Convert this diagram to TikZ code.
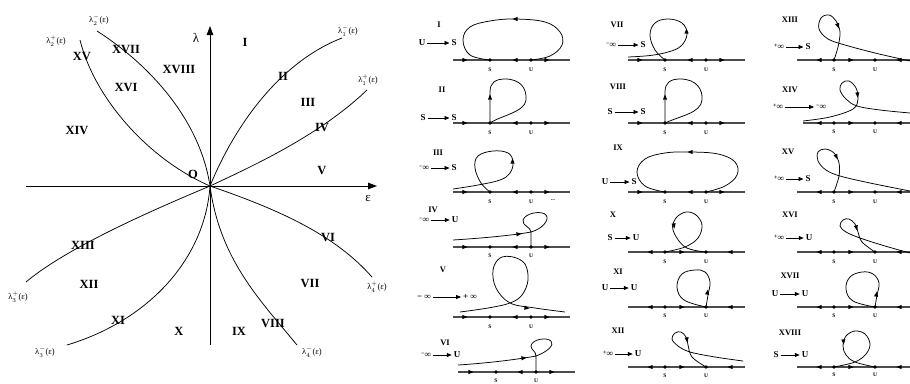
\documentclass[tikz,border=0pt]{standalone}
\usepackage{fontspec}
\setmainfont{Liberation Serif}
\usetikzlibrary{arrows.meta}
\tikzset{
  crv/.style={line width=0.75pt},
  axl/.style={line width=1.1pt, black!70},
  reg/.style={font=\fontsize{12.5}{13}\selectfont\bfseries, inner sep=0pt},
  plab/.style={font=\fontsize{8.5}{9}\selectfont\bfseries, inner sep=0pt},
  tl/.style={font=\fontsize{9}{10}\selectfont\bfseries, inner sep=1.8pt},
  su/.style={font=\fontsize{5.5}{6}\selectfont\bfseries, inner sep=0pt},
  lam/.style={font=\fontsize{8.5}{9}\selectfont, inner sep=0pt},
  tarr/.style={line width=0.8pt, -{Triangle[length=5pt,width=4pt]}},
  mainax/.style={line width=0.9pt, -{Triangle[length=9pt,width=6.5pt]}},
}
\newcommand\tri[3]{\fill[shift={({#1},{#2})},rotate=#3] (2.6,0) -- (-2.6,2.1) -- (-2.6,-2.1) -- cycle;}
% #1 name, #2 y, #3 x0, #4 x1, #5 sx, #6 ux, #7 label y
\newcommand\axA[7]{%
  \draw[axl] ({#3},{#2}) -- ({#4},{#2});
  \tri{#5-25}{#2}{0}\tri{#6-16}{#2}{180}\tri{#6+16}{#2}{0}
  \fill ({#5},{#2}) circle (1.8);\fill ({#6},{#2}) circle (1.8);
  \node[su] (#1s) at ({#5},{#7}) {S};\node[su] (#1u) at ({#6},{#7}) {U};}
\newcommand\axB[7]{%
  \draw[axl] ({#3},{#2}) -- ({#4},{#2});
  \tri{#5-15}{#2}{180}\tri{#5+17}{#2}{0}\tri{#6+24}{#2}{180}
  \fill ({#5},{#2}) circle (1.8);\fill ({#6},{#2}) circle (1.8);
  \node[su] (#1s) at ({#5},{#7}) {S};\node[su] (#1u) at ({#6},{#7}) {U};}
\newcommand\minf{\raisebox{2pt}{\fontsize{6}{6}\selectfont −}∞}
\newcommand\pinf{\raisebox{2pt}{\fontsize{6}{6}\selectfont +}∞}
\newcommand\lamlab[2]{λ$^{#1}_{#2}$(ε)}
\begin{document}
\begin{tikzpicture}[x=1pt,y=-1pt]
\useasboundingbox (0,0) rectangle (910,383);
% ================= left bifurcation diagram =================
\coordinate (O) at (210,186);
\coordinate (hL) at (26,186); \coordinate (hR) at (377,186);
\coordinate (vB) at (210,345); \coordinate (vT) at (210,26);
\draw[mainax] (hL) -- (hR);
\draw[mainax] (vB) -- (vT);
\coordinate (e1m) at (342,38);
\coordinate (e1p) at (367,90);
\coordinate (e2m) at (97,31);
\coordinate (e2p) at (80,40);
\coordinate (e3p) at (26,282);
\coordinate (e3m) at (67,345);
\coordinate (e4m) at (297,345);
\coordinate (e4p) at (372,277);
\draw[crv] (O) .. controls (235,125) and (280,62) .. (e1m);
\draw[crv] (O) .. controls (255,165) and (320,135) .. (e1p);
\draw[crv] (e2m) .. controls (150,65) and (200,120) .. (O);
\draw[crv] (e2p) .. controls (95,100) and (150,160) .. (O);
\draw[crv] (O) .. controls (165,205) and (70,245) .. (e3p);
\draw[crv] (O) .. controls (205,258) and (150,320) .. (e3m);
\draw[crv] (O) .. controls (220,260) and (260,300) .. (e4m);
\draw[crv] (O) .. controls (280,210) and (335,235) .. (e4p);
\node[font=\fontsize{13}{14}\selectfont] (lamax) at (196,38) {λ};
\node[font=\fontsize{13}{14}\selectfont] (epsax) at (368,198) {ε};
\node[reg] (rO) at (193,174) {O};
\node[lam] (l2m) at (99,20) {\lamlab{-}{2}};
\node[lam] (l2p) at (56,41) {\lamlab{+}{2}};
\node[lam] (l1m) at (348,31) {\lamlab{-}{1}};
\node[lam] (l1p) at (368,80) {\lamlab{+}{1}};
\node[lam] (l3p) at (18,297) {\lamlab{+}{3}};
\node[lam] (l3m) at (45,352) {\lamlab{-}{3}};
\node[lam] (l4m) at (312,352) {\lamlab{-}{4}};
\node[lam] (l4p) at (377,287) {\lamlab{+}{4}};
\node[reg] (r1) at (245,42) {I};
\node[reg] (r2) at (283,76) {II};
\node[reg] (r3) at (308,102) {III};
\node[reg] (r4) at (322,127) {IV};
\node[reg] (r5) at (322,170) {V};
\node[reg] (r6) at (328,237) {VI};
\node[reg] (r7) at (310,283) {VII};
\node[reg] (r8) at (273,323) {VIII};
\node[reg] (r9) at (239,331) {IX};
\node[reg] (r10) at (179,331) {X};
\node[reg] (r11) at (118,320) {XI};
\node[reg] (r12) at (89,284) {XII};
\node[reg] (r13) at (83,245) {XIII};
\node[reg] (r14) at (77,130) {XIV};
\node[reg] (r15) at (82,57) {XV};
\node[reg] (r16) at (126,87) {XVI};
\node[reg] (r17) at (126,50) {XVII};
\node[reg] (r18) at (179,70) {XVIII};
% ================= column 1 =================
% I
\node[plab] (pI) at (439,25) {I};
\node[tl] (tIa) at (422,43) {U}; \node[tl] (tIb) at (454,43) {S}; \draw[tarr] (tIa) -- (tIb);
\axA{aI}{60}{453}{570}{490}{531}{70}
\draw[crv] plot[smooth,tension=0.65] coordinates {(490,60) (470,55) (463,40) (470,27) (490,21) (515,19) (545,22) (560,32) (562,45) (550,56) (531,60)};
\tri{515}{19}{180}
% II
\node[plab] (pII) at (442,90) {II};
\node[tl] (tIIa) at (423,118) {S}; \node[tl] (tIIb) at (454,118) {S}; \draw[tarr] (tIIa) -- (tIIb);
\axA{aII}{123}{453}{570}{490}{531}{133}
\draw[crv] (490,123) -- (490,92) .. controls (490,83) and (495,79) .. (505,79) .. controls (520,79) and (527,88) .. (526,100) .. controls (525,112) and (500,116) .. (490,123);
\tri{490}{97}{90}
% III
\node[plab] (pIII) at (438,153) {III};
\node[tl] (tIIIa) at (424,168) {\minf}; \node[tl] (tIIIb) at (454,168) {S}; \draw[tarr] (tIIIa) -- (tIIIb);
\axA{aIII}{192}{453}{570}{490}{531}{202}
\node[su] (dots3) at (553,200) {...};
\draw[crv] plot[smooth,tension=0.65] coordinates {(453,189) (478,185) (500,180) (510,173) (513,162) (508,153) (493,151) (478,156) (475,168) (481,183) (490,192)};
\tri{512.5}{161}{90}
% IV
\node[plab] (pIV) at (433,210) {IV};
\node[tl] (tIVa) at (424,220) {\minf}; \node[tl] (tIVb) at (455,220) {U}; \draw[tarr] (tIVa) -- (tIVb);
\axA{aIV}{247}{453}{570}{490}{531}{256}
\draw[crv] (453,240) .. controls (485,238) and (515,235) .. (531,232) .. controls (542,229) and (550,220) .. (546,215) .. controls (542,210) and (525,213) .. (523,220) .. controls (522,226) and (531,227) .. (531,232) -- (531,247);
\tri{519}{234}{6}
% V
\node[plab] (pV) at (443,270) {V};
\node[tl] (tVa) at (424,297) {− ∞}; \node[tl] (tVb) at (470,297) {+ ∞}; \draw[tarr] (tVa) -- (tVb);
\axA{aV}{317}{453}{570}{490}{531}{327}
\draw[crv] plot[smooth,tension=0.6] coordinates {(460,312) (488,308) (510,303) (522,295) (528,280) (525,264) (513,257) (500,258) (493,270) (496,288) (510,303) (535,308) (565,312)};
\tri{527}{308}{-6}
% VI
\node[plab] (pVI) at (445,343) {VI};
\node[tl] (tVIa) at (426,355) {\minf}; \node[tl] (tVIb) at (457,355) {U}; \draw[tarr] (tVIa) -- (tVIb);
\axA{aVI}{372}{458}{575}{496}{536}{381}
\draw[crv] (458,365) .. controls (490,363) and (520,359) .. (536,356) .. controls (547,352) and (555,345) .. (551,341) .. controls (547,337) and (532,339) .. (531,346) .. controls (531,350) and (536,351) .. (536,356) -- (536,372);
\tri{524}{358}{6}
% ================= column 2 =================
% VII
\node[plab] (pVII) at (617,25) {VII};
\node[tl] (tVIIa) at (611,45) {\minf}; \node[tl] (tVIIb) at (643,45) {S}; \draw[tarr] (tVIIa) -- (tVIIb);
\axA{aVII}{60}{628}{745}{665}{706}{70}
\draw[crv] plot[smooth,tension=0.65] coordinates {(628,57) (650,55.5) (668,52) (681,46) (687,34) (682,23) (668,19) (655,23) (650,35) (655,50) (665,60)};
\tri{686.5}{31}{90}
% VIII
\node[plab] (pVIII) at (618,87) {VIII};
\node[tl] (tVIIIa) at (610,112) {S}; \node[tl] (tVIIIb) at (643,112) {S}; \draw[tarr] (tVIIIa) -- (tVIIIb);
\axA{aVIII}{123}{628}{745}{665}{706}{133}
\draw[crv] (665,123) -- (665,92) .. controls (665,83) and (670,79) .. (680,79) .. controls (697,79) and (703,90) .. (702,100) .. controls (701,113) and (680,116) .. (665,123);
\tri{665}{97}{90}
% IX
\node[plab] (pIX) at (618,148) {IX};
\node[tl] (tIXa) at (605,182) {U}; \node[tl] (tIXb) at (634,182) {S}; \draw[tarr] (tIXa) -- (tIXb);
\axA{aIX}{192}{628}{745}{665}{706}{202}
\draw[crv] plot[smooth,tension=0.65] coordinates {(665,192) (645,186) (637,172) (645,159) (665,153) (690,152) (718,154) (735,162) (737,175) (725,186) (706,192)};
\tri{690}{152}{180}
% X
\node[plab] (pX) at (613,215) {X};
\node[tl] (tXa) at (610,238) {S}; \node[tl] (tXb) at (636,238) {U}; \draw[tarr] (tXa) -- (tXb);
\axB{aX}{252}{628}{745}{665}{706}{262}
\draw[crv] plot[smooth,tension=0.6] coordinates {(665,252) (685,247) (698,238) (702,225) (696,215) (686,212) (676,218) (673,230) (685,247) (706,252)};
\tri{674}{226}{-80}
% XI
\node[plab] (pXI) at (618,272) {XI};
\node[tl] (tXIa) at (605,288) {U}; \node[tl] (tXIb) at (634,288) {U}; \draw[tarr] (tXIa) -- (tXIb);
\axB{aXI}{307}{628}{745}{665}{706}{316}
\draw[crv] plot[smooth,tension=0.65] coordinates {(706,307) (708,295) (710,282) (705,272) (695,270) (682,274) (677,287) (684,300) (706,307)};
\tri{707.5}{292}{80}
% XII
\node[plab] (pXII) at (618,331) {XII};
\node[tl] (tXIIa) at (608,354) {\pinf}; \node[tl] (tXIIb) at (638,354) {U}; \draw[tarr] (tXIIa) -- (tXIIb);
\axB{aXII}{367}{628}{745}{665}{706}{376}
\draw[crv] plot[smooth,tension=0.6] coordinates {(743,361) (715,357) (690,352) (678,346) (672,339) (675,333) (681,332) (686,337) (688,345) (692,357) (706,367)};
\tri{687}{340}{-80}
% ================= column 3 =================
% XIII
\node[plab] (pXIII) at (790,20) {XIII};
\node[tl] (tXIIIa) at (779,47) {\pinf}; \node[tl] (tXIIIb) at (808,47) {S}; \draw[tarr] (tXIIIa) -- (tXIIIb);
\axB{aXIII}{60}{797}{910}{834}{875}{70}
\draw[crv] plot[smooth,tension=0.6] coordinates {(910,61) (875,53) (845,45) (828,39) (819,29) (821,18) (829,15) (836,21) (840,32) (838,47) (834,60)};
\tri{838}{26}{-70}
% XIV
\node[plab] (pXIV) at (790,90) {XIV};
\node[tl] (tXIVa) at (778,107) {\pinf}; \node[tl] (tXIVb) at (821,107) {\minf}; \draw[tarr] (tXIVa) -- (tXIVb);
\axB{aXIV}{123}{803}{910}{834}{875}{132}
\draw[crv] plot[smooth,tension=0.6] coordinates {(910,113) (880,110) (857,106) (846,99) (840,90) (842,83) (849,81) (856,88) (858,99) (853,109) (830,117) (803,121)};
\tri{857.5}{95}{-85}
% XV
\node[plab] (pXV) at (788,152) {XV};
\node[tl] (tXVa) at (779,179) {\pinf}; \node[tl] (tXVb) at (808,179) {S}; \draw[tarr] (tXVa) -- (tXVb);
\axB{aXV}{192}{797}{910}{834}{875}{202}
\draw[crv] plot[smooth,tension=0.6] coordinates {(910,191) (870,183) (840,176) (826,170) (818,161) (818,152) (825,149) (834,153) (839,163) (839,176) (834,192)};
\tri{836.5}{157}{-65}
% XVI
\node[plab] (pXVI) at (790,215) {XVI};
\node[tl] (tXVIa) at (779,238) {\pinf}; \node[tl] (tXVIb) at (809,238) {U}; \draw[tarr] (tXVIa) -- (tXVIb);
\axB{aXVI}{252}{797}{910}{834}{875}{262}
\draw[crv] plot[smooth,tension=0.6] coordinates {(910,253) (885,246) (860,238) (846,232) (840,226) (843,220) (849,219) (855,224) (858,232) (862,242) (875,252)};
\tri{856.5}{228}{-75}
% XVII
\node[plab] (pXVII) at (790,276) {XVII};
\node[tl] (tXVIIa) at (775,294) {U}; \node[tl] (tXVIIb) at (805,294) {U}; \draw[tarr] (tXVIIa) -- (tXVIIb);
\axB{aXVII}{307}{797}{910}{834}{875}{316}
\draw[crv] plot[smooth,tension=0.65] coordinates {(875,307) (877,295) (879,283) (873,274) (862,272) (850,277) (846,289) (853,301) (875,307)};
\tri{876.5}{294}{80}
% XVIII
\node[plab] (pXVIII) at (790,333) {XVIII};
\node[tl] (tXVIIIa) at (776,355) {S}; \node[tl] (tXVIIIb) at (805,355) {U}; \draw[tarr] (tXVIIIa) -- (tXVIIIb);
\axB{aXVIII}{367}{797}{910}{834}{875}{375}
\draw[crv] plot[smooth,tension=0.6] coordinates {(834,367) (855,362) (866,354) (870,344) (865,334) (855,331) (846,336) (843,346) (846,355) (855,362) (875,367)};
\tri{843.5}{342}{-85}
\end{tikzpicture}
\end{document}
